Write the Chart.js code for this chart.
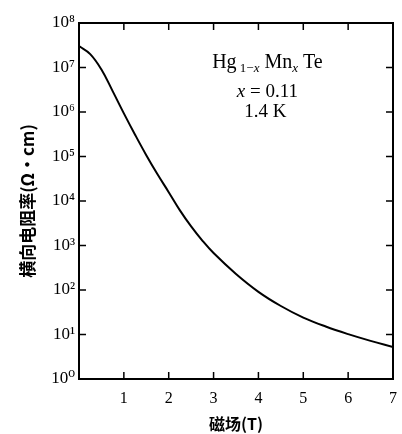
<!DOCTYPE html>
<html>
<head>
<meta charset="utf-8">
<script src="https://cdn.jsdelivr.net/npm/chart.js@4.4.0/dist/chart.umd.min.js"></script>
<style>
  html, body { margin: 0; padding: 0; background: #fff; }
  #wrap { width: 402px; height: 434px; }
</style>
</head>
<body>
<div id="wrap"><canvas id="rhoChart"></canvas></div>
<script>
// magnetic field (T) and transverse resistivity (ohm cm)
const field = [0, 0.25, 0.5, 0.75, 1, 1.25, 1.5, 1.75, 2, 2.25, 2.5, 2.75, 3, 3.5, 4, 4.5, 5, 5.5, 6, 6.5, 7];
const resistivity = [3.02e7, 2.0e7, 9.0e6, 2.95e6, 9.33e5, 3.09e5, 1.07e5, 3.98e4, 1.58e4, 6.17e3, 2.69e3, 1.29e3, 676, 229, 91, 43.7, 24.0, 15.1, 10.2, 7.2, 5.25];
const xTicks = [1, 2, 3, 4, 5, 6, 7];
const yTicks = [1, 1e1, 1e2, 1e3, 1e4, 1e5, 1e6, 1e7, 1e8];
const supers = ['⁰', '¹', '²', '³', '⁴', '⁵', '⁶', '⁷', '⁸'];

const serif = '"Liberation Serif", "DejaVu Serif", serif';
const cjk = '"Noto Sans CJK SC", sans-serif';

// frame, inward ticks on all four sides, and the sample label
const framePlugin = {
    id: 'frame',
    afterDraw(chart) {
        const { ctx, chartArea: a, scales: { x, y } } = chart;
        ctx.save();
        ctx.strokeStyle = '#000';
        ctx.lineWidth = 2;
        ctx.strokeRect(a.left, a.top, a.right - a.left, a.bottom - a.top);
        ctx.lineWidth = 1.5;
        const len = 7;
        xTicks.forEach(v => {
            if (v >= 7) return;
            const px = x.getPixelForValue(v);
            ctx.beginPath();
            ctx.moveTo(px, a.bottom); ctx.lineTo(px, a.bottom - len);
            ctx.moveTo(px, a.top); ctx.lineTo(px, a.top + len);
            ctx.stroke();
        });
        yTicks.forEach(v => {
            if (v <= 1 || v >= 1e8) return;
            const py = y.getPixelForValue(v);
            ctx.beginPath();
            ctx.moveTo(a.left, py); ctx.lineTo(a.left + len, py);
            ctx.moveTo(a.right, py); ctx.lineTo(a.right - len, py);
            ctx.stroke();
        });

        // Hg1-xMnxTe label
        ctx.fillStyle = '#000';
        ctx.textBaseline = 'alphabetic';
        ctx.textAlign = 'left';
        const big = '20px ' + serif;
        const sub = '13px ' + serif;
        const subI = 'italic 13px ' + serif;
        const parts = [
            ['Hg', big, 0], [' 1−', sub, 4], ['x', subI, 4], [' Mn', big, 0], ['x', subI, 4], [' Te', big, 0]
        ];
        let total = 0;
        parts.forEach(p => { ctx.font = p[1]; total += ctx.measureText(p[0]).width; });
        const cx = x.getPixelForValue(4.2);
        let px = cx - total / 2;
        const base1 = y.getPixelForValue(Math.pow(10, 7.0));
        parts.forEach(p => {
            ctx.font = p[1];
            ctx.fillText(p[0], px, base1 + p[2]);
            px += ctx.measureText(p[0]).width;
        });

        const rest = ' = 0.11';
        ctx.font = '19px ' + serif;
        const w2 = ctx.measureText(rest).width;
        ctx.font = 'italic 19px ' + serif;
        const wx = ctx.measureText('x').width;
        const base2 = y.getPixelForValue(Math.pow(10, 6.33));
        const start2 = cx - (w2 + wx) / 2;
        ctx.fillText('x', start2, base2);
        ctx.font = '19px ' + serif;
        ctx.fillText(rest, start2 + wx, base2);

        ctx.textAlign = 'center';
        ctx.fillText('1.4 K', cx - 2, y.getPixelForValue(Math.pow(10, 5.88)));
        ctx.restore();
    }
};

new Chart(document.getElementById('rhoChart'), {
    type: 'line',
    data: {
        labels: field,
        datasets: [{
            data: field.map((f, i) => ({ x: f, y: resistivity[i] })),
            borderColor: '#000',
            borderWidth: 2,
            pointRadius: 0,
            fill: false,
            tension: 0.4
        }]
    },
    options: {
        responsive: true,
        maintainAspectRatio: false,
        animation: false,
        layout: { padding: { left: 13, right: 9, top: 23, bottom: 0 } },
        plugins: { legend: { display: false }, tooltip: { enabled: false } },
        scales: {
            x: {
                type: 'linear',
                min: 0,
                max: 7,
                afterBuildTicks: s => { s.ticks = xTicks.map(v => ({ value: v })); },
                afterFit: s => { s.height = 55; s.paddingLeft = 0; s.paddingRight = 0; },
                grid: { display: false, drawTicks: false },
                border: { display: false },
                ticks: {
                    padding: 10,
                    color: '#000',
                    font: { family: serif, size: 16 },
                    callback: v => String(v)
                },
                title: {
                    display: true,
                    text: '磁场(T)',
                    color: '#000',
                    font: { family: cjk, size: 16, weight: 'bold' },
                    padding: { top: 0, bottom: 0 }
                }
            },
            y: {
                type: 'logarithmic',
                min: 1,
                max: 1e8,
                afterBuildTicks: s => { s.ticks = yTicks.map(v => ({ value: v })); },
                afterFit: s => { s.width = 66; },
                grid: { display: false, drawTicks: false },
                border: { display: false },
                ticks: {
                    padding: 4,
                    color: '#000',
                    font: { family: serif, size: 17 },
                    callback: v => '10' + supers[Math.round(Math.log10(v))]
                },
                title: {
                    display: true,
                    text: '横向电阻率(Ω·cm)',
                    color: '#000',
                    font: { family: cjk, size: 17, weight: 'bold' },
                    padding: { top: 4, bottom: 4 }
                }
            }
        }
    },
    plugins: [framePlugin]
});
</script>
</body>
</html>
